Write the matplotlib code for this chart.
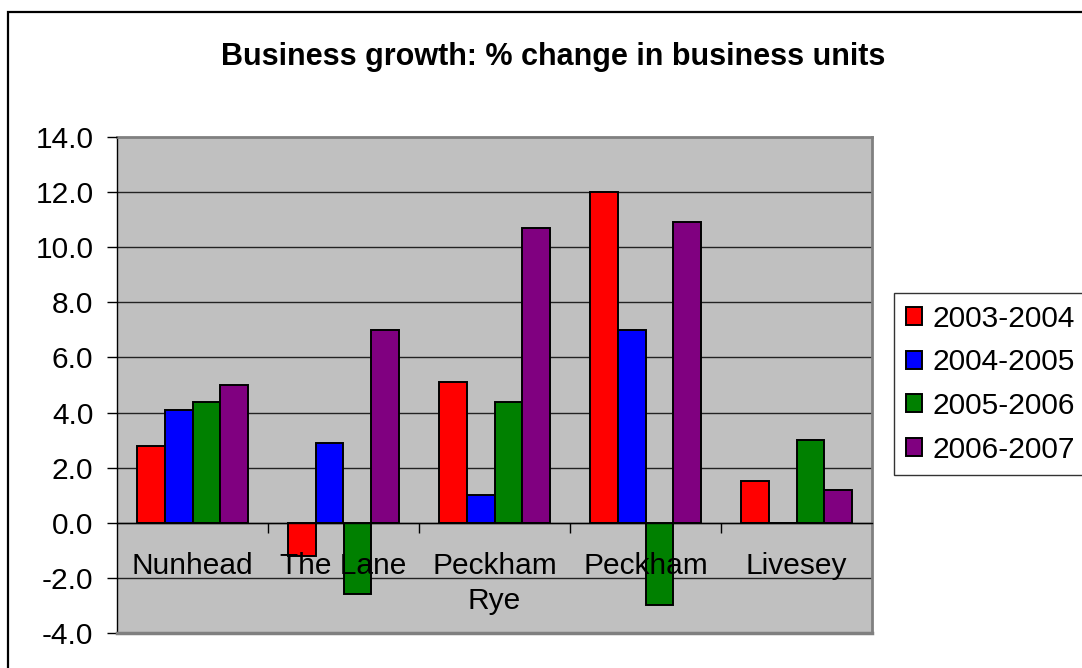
import numpy as np
import matplotlib
matplotlib.use('Agg')
from matplotlib import pyplot as plt
from matplotlib.patches import Rectangle

# data
areas = ['Nunhead', 'The Lane', 'Peckham\nRye', 'Peckham', 'Livesey']
periods = ['2003-2004', '2004-2005', '2005-2006', '2006-2007']
v_0304 = [2.8, -1.2, 5.1, 12.0, 1.5]
v_0405 = [4.1, 2.9, 1.0, 7.0, 0.0]
v_0506 = [4.4, -2.6, 4.4, -3.0, 3.0]
v_0607 = [5.0, 7.0, 10.7, 10.9, 1.2]
bar_colors = ['#FF0000', '#0000FF', '#008000', '#800080']

plt.rcParams['font.family'] = ['Liberation Sans', 'DejaVu Sans']
fs = 21.5

fig = plt.figure(figsize=(10.82, 6.68), dpi=100)
ax = fig.add_axes([117/1082, 1 - 633/668, 755/1082, 496/668])
ax.set_facecolor('#C0C0C0')
ax.set_axisbelow(False)

# outer chart border (right/bottom run off the picture)
fig.add_artist(Rectangle((8/1082, -0.1), 1.2, 1 - 12/668 + 0.1, fill=False,
                         edgecolor='black', linewidth=1.6,
                         transform=fig.transFigure))

x = np.arange(len(areas))
w = 0.735 / 4
series = [v_0304, v_0405, v_0506, v_0607]
for i, vals in enumerate(series):
    ax.bar(x + (i - 1.5) * w, vals, width=w, color=bar_colors[i],
           edgecolor='black', linewidth=1.4, label=periods[i], zorder=2)

ax.set_xlim(-0.5, len(areas) - 0.5)
ax.set_ylim(-4, 14)
ax.set_yticks(np.arange(-4, 14.1, 2))
ax.set_yticklabels(['%.1f' % v for v in np.arange(-4, 14.1, 2)])

# gridlines
for yv in np.arange(-2, 14, 2):
    ax.axhline(yv, color='#222222', linewidth=1.0, zorder=1)

# category axis at zero, labels drawn over the bars
ax.spines['bottom'].set_position(('data', 0))
ax.spines['bottom'].set_color('black')
ax.spines['bottom'].set_linewidth(1.0)
ax.set_xticks(np.arange(0.5, len(areas) - 0.5, 1))
ax.set_xticklabels([])
ax.set_xticks(x, minor=True)
ax.set_xticklabels(areas, minor=True, linespacing=1.3)
ax.tick_params(axis='x', which='major', direction='out', length=7, width=1, color='black')
ax.tick_params(axis='x', which='minor', length=0, pad=21, labelsize=fs)
ax.tick_params(axis='y', direction='out', length=7, width=1, pad=10, labelsize=fs)

ax.spines['left'].set_color('black')
ax.spines['left'].set_linewidth(1.0)
for s in ['top', 'right']:
    ax.spines[s].set_color('#808080')
    ax.spines[s].set_linewidth(2)
ax.axhline(-4, color='#808080', linewidth=2.5, zorder=5, clip_on=False)

fig.text(553.5/1082, 1 - 57/668, 'Business growth: % change in business units',
         ha='center', va='center', fontsize=22, fontweight='bold')

leg = ax.legend(loc='upper left', bbox_to_anchor=(894/1082, 1 - 293/668),
                bbox_transform=fig.transFigure, fontsize=fs, frameon=True,
                fancybox=False, edgecolor='black', handlelength=0.55,
                handleheight=0.55, handletextpad=0.35, labelspacing=0.52,
                borderpad=0.4, borderaxespad=0)
leg.get_frame().set_linewidth(1.0)
leg.set_zorder(6)

fig.savefig('out.png', dpi=100, facecolor='white')
